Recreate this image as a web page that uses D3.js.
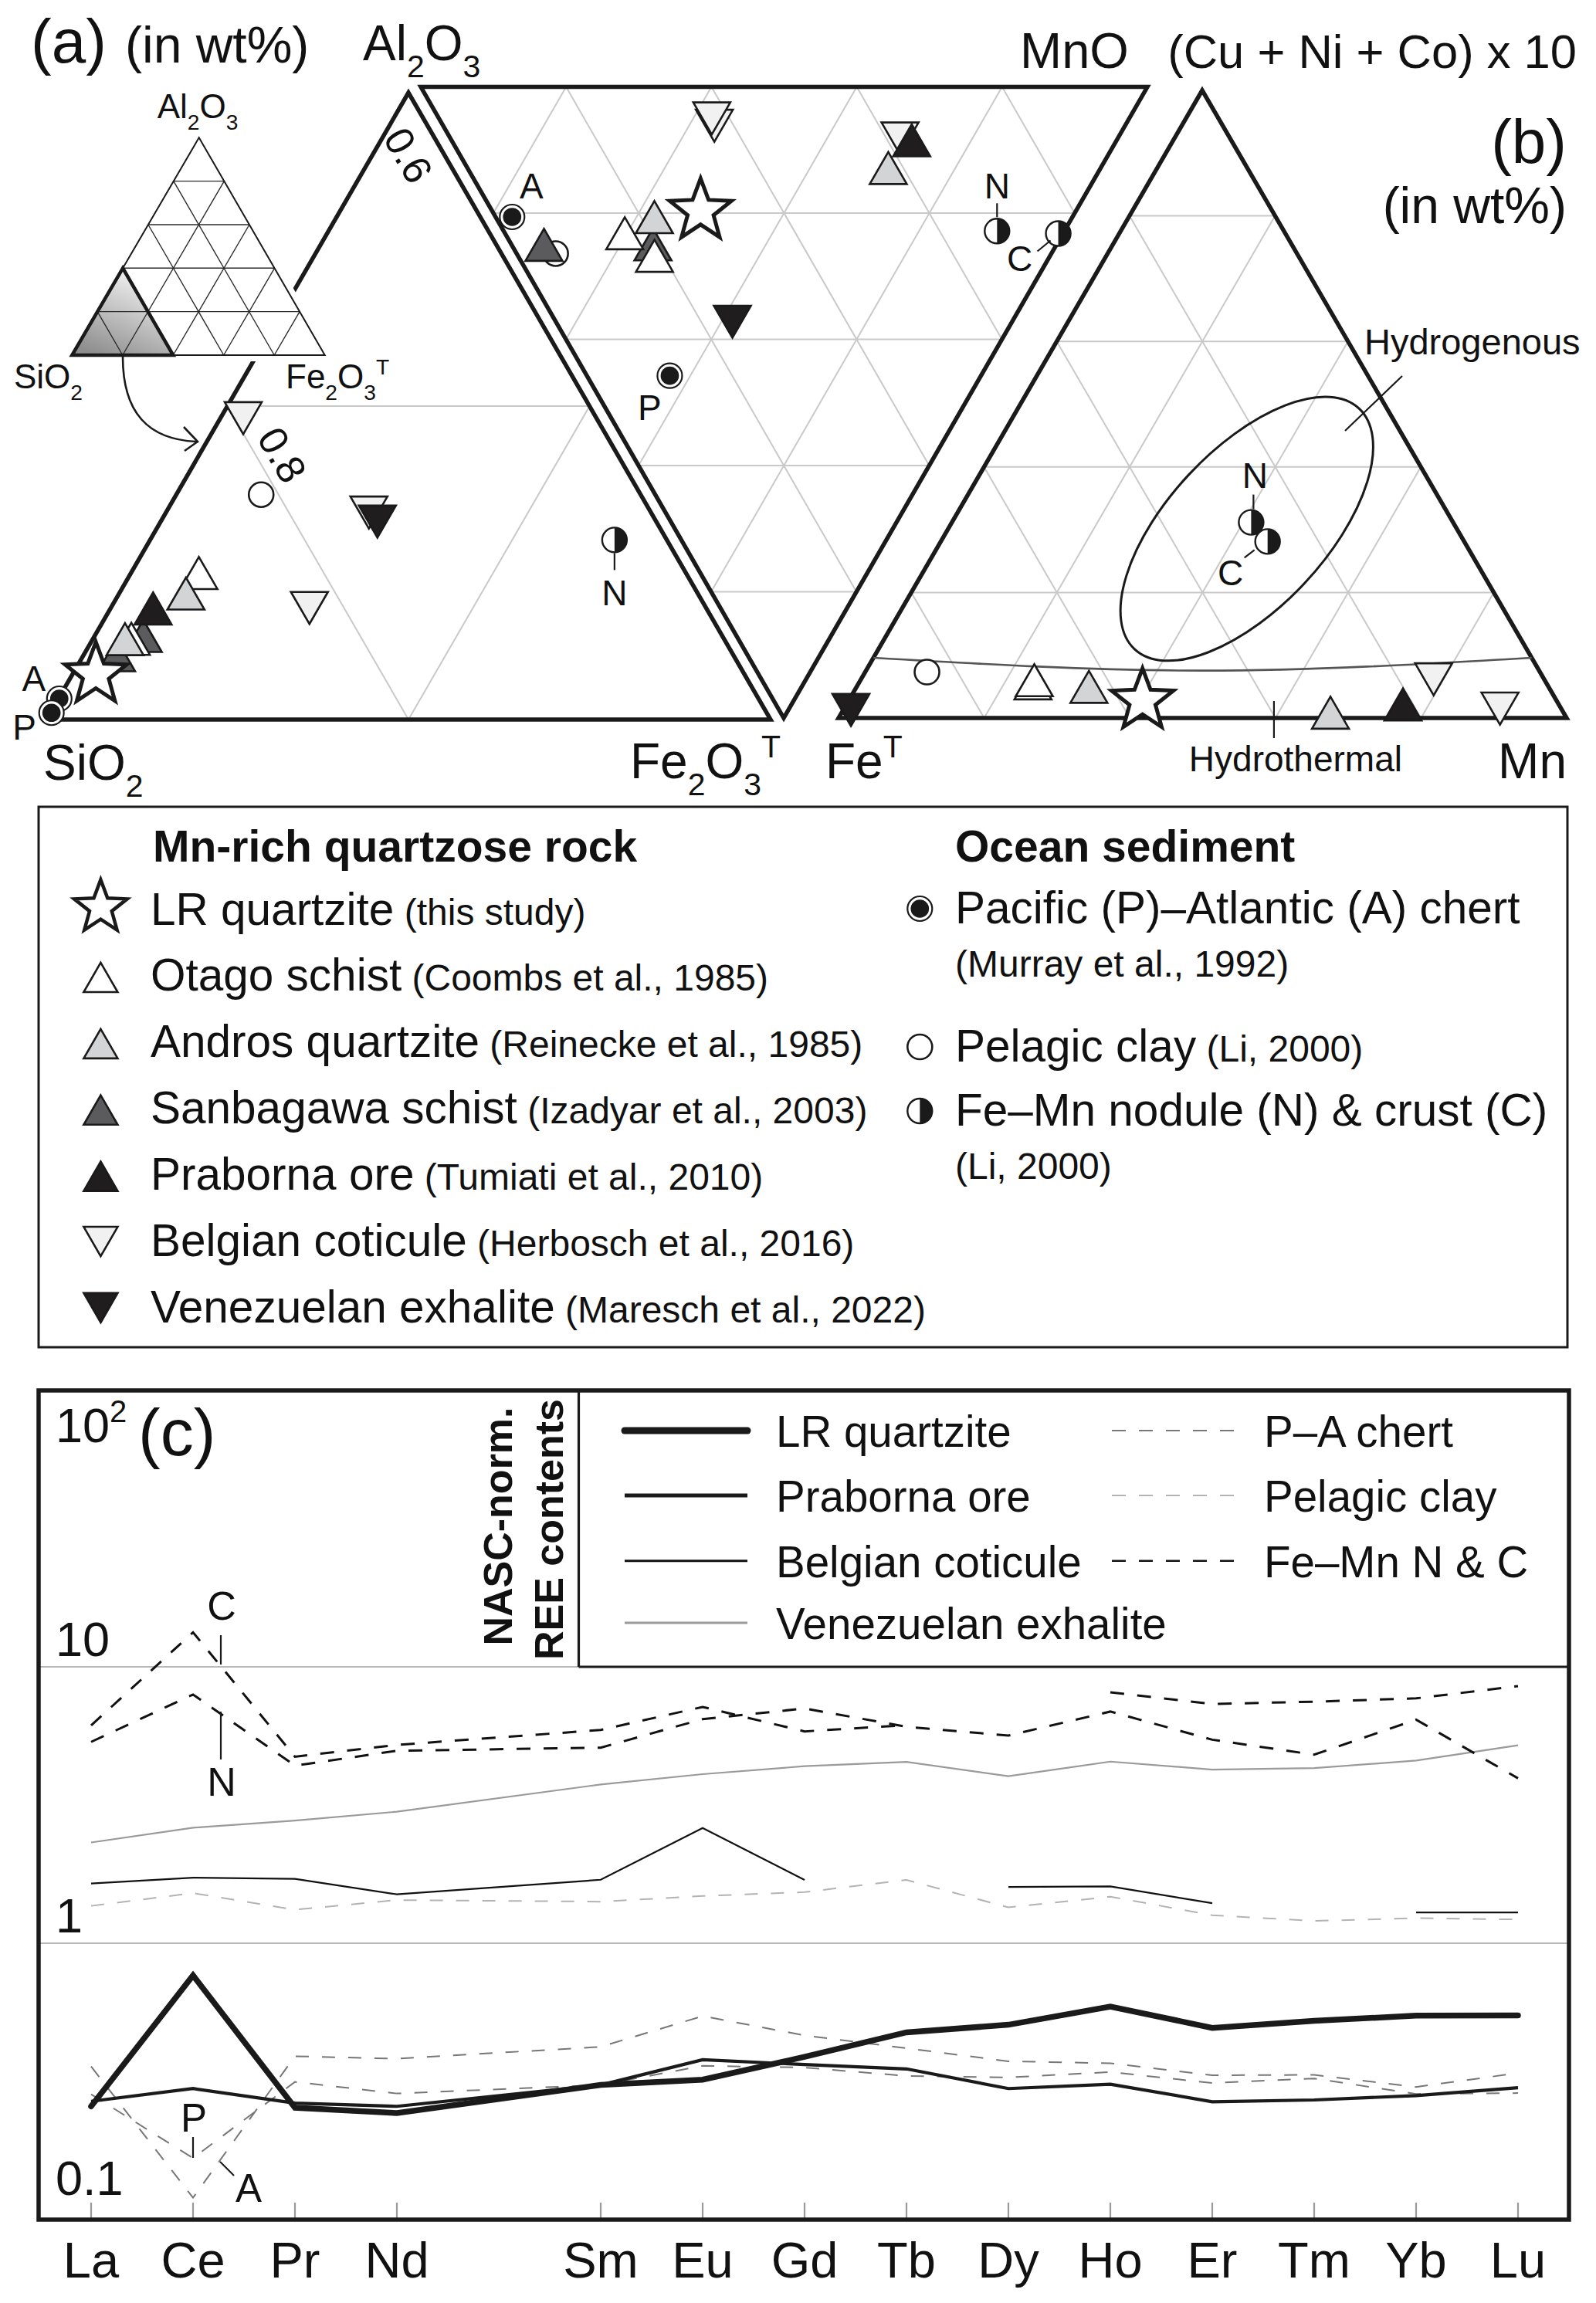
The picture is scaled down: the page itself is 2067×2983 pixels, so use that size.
<!DOCTYPE html>
<html>
<head>
<meta charset="utf-8">
<script src="https://cdn.jsdelivr.net/npm/d3@7"></script>
<style>
  body { margin: 0; background: #fff; }
  text { font-family: "Liberation Sans", Arial, Helvetica, sans-serif; fill: #111; }
</style>
</head>
<body>
<div id="wrapper"></div>
<script>
// ---------- data ----------
// (a) SiO2-Al2O3-Fe2O3 (wt fractions), drawn in the SiO2 > 0.6 corner
const panelAPoints = [
  {type: "sanbagawa", al: 0.0499, fe: 0.0286},
  {type: "sanbagawa", al: 0.0376, fe: 0.0200},
  {type: "otago", al: 0.0901, fe: 0.0392},
  {type: "otago", al: 0.0481, fe: 0.0229},
  {type: "andros", al: 0.0770, fe: 0.0386},
  {type: "andros", al: 0.0479, fe: 0.0195},
  {type: "praborna", al: 0.0675, fe: 0.0252},
  {type: "belgian", al: 0.1957, fe: 0.0109},
  {type: "belgian", al: 0.1355, fe: 0.1104},
  {type: "belgian", al: 0.0746, fe: 0.1080},
  {type: "venezuelan", al: 0.1297, fe: 0.1180},
  {type: "clay", al: 0.1435, fe: 0.0469},
  {type: "nodule", al: 0.1146, fe: 0.2565, tag: "N"},
  {type: "lr", al: 0.0287, fe: 0.0130},
  {type: "chert", al: 0.0133, fe: 0.0005, tag: "A"},
  {type: "chert", al: 0.0043, fe: 0.0007, tag: "P"}
];
// Al2O3-MnO-Fe2O3 (inverted triangle)
const panelMidPoints = [
  {type: "chert", mn: 0.0228, fe: 0.2060, tag: "A"},
  {type: "clay", mn: 0.0537, fe: 0.2641},
  {type: "sanbagawa", mn: 0.0403, fe: 0.2586},
  {type: "belgian", mn: 0.3775, fe: 0.0531},
  {type: "belgian", mn: 0.3798, fe: 0.0414},
  {type: "sanbagawa", mn: 0.1907, fe: 0.2579},
  {type: "otago", mn: 0.1837, fe: 0.2761},
  {type: "otago", mn: 0.1607, fe: 0.2403},
  {type: "andros", mn: 0.2142, fe: 0.2148},
  {type: "lr", mn: 0.2869, fe: 0.1965},
  {type: "venezuelan", mn: 0.2472, fe: 0.3636},
  {type: "chert", mn: 0.1141, fe: 0.4576, tag: "P"},
  {type: "andros", mn: 0.5750, fe: 0.1369},
  {type: "belgian", mn: 0.6230, fe: 0.0732},
  {type: "praborna", mn: 0.6291, fe: 0.0931},
  {type: "nodule", mn: 0.6790, fe: 0.2284, tag: "N"},
  {type: "nodule", mn: 0.7613, fe: 0.2323, tag: "C"}
];
// (b) FeT - (Cu+Ni+Co)x10 - Mn
const panelBPoints = [
  {type: "clay", cu: 0.0732, mn: 0.0849},
  {type: "otago", cu: 0.0467, mn: 0.2437},
  {type: "otago", cu: 0.0517, mn: 0.2430},
  {type: "andros", cu: 0.0412, mn: 0.3233},
  {type: "andros", cu: 0.0000, mn: 0.6756},
  {type: "praborna", cu: 0.0132, mn: 0.7686},
  {type: "belgian", cu: 0.0701, mn: 0.7823},
  {type: "belgian", cu: 0.0235, mn: 0.8967},
  {type: "venezuelan", cu: 0.0212, mn: 0.0064},
  {type: "lr", cu: 0.0276, mn: 0.4037},
  {type: "nodule", cu: 0.3117, mn: 0.4110, tag: "N"},
  {type: "nodule", cu: 0.2812, mn: 0.4488, tag: "C"}
];
const hydrothermalCurve = [
  {cu: 0.096, mn: 0.000}, {cu: 0.0755, mn: 0.4623}, {cu: 0.096, mn: 0.904}
];
const hydrogenousField = {cu: 0.3014, mn: 0.4102, major: 0.226, minor: 0.109, angle: -47};
const hydrothermalTick = {mn: 0.598};

// legend of (a)-(b)
const legendRock = [
  {key: "lr", name: "LR quartzite", ref: "(this study)"},
  {key: "otago", name: "Otago schist", ref: "(Coombs et al., 1985)"},
  {key: "andros", name: "Andros quartzite", ref: "(Reinecke et al., 1985)"},
  {key: "sanbagawa", name: "Sanbagawa schist", ref: "(Izadyar et al., 2003)"},
  {key: "praborna", name: "Praborna ore", ref: "(Tumiati et al., 2010)"},
  {key: "belgian", name: "Belgian coticule", ref: "(Herbosch et al., 2016)"},
  {key: "venezuelan", name: "Venezuelan exhalite", ref: "(Maresch et al., 2022)"}
];
const legendOcean = [
  {key: "chert", name: "Pacific (P)\u2013Atlantic (A) chert", ref: "(Murray et al., 1992)", own: true},
  {key: "clay", name: "Pelagic clay", ref: "(Li, 2000)", own: false},
  {key: "nodule", name: "Fe\u2013Mn nodule (N) & crust (C)", ref: "(Li, 2000)", own: true}
];

// (c) NASC-normalised REE
const ree = ["La", "Ce", "Pr", "Nd", "Sm", "Eu", "Gd", "Tb", "Dy", "Ho", "Er", "Tm", "Yb", "Lu"];
const atomicNo = [57, 58, 59, 60, 62, 63, 64, 65, 66, 67, 68, 69, 70, 71];
const lrQuartzite = [0.257, 0.765, 0.254, 0.243, 0.307, 0.321, 0.388, 0.476, 0.507, 0.590, 0.494, 0.524, 0.547, 0.548];
const prabornaOre = [0.268, 0.298, 0.264, 0.257, 0.307, 0.379, 0.364, 0.351, 0.298, 0.309, 0.267, 0.271, 0.281, 0.300];
const belgianCoticule = [1.644, 1.727, 1.709, 1.503, 1.697, 2.61, 1.695, null, 1.598, 1.605, 1.396, null, 1.293, 1.293];
const venezuelanExhalite = [2.315, 2.619, 2.779, 2.991, 3.753, 4.09, 4.37, 4.53, 4.02, 4.54, 4.25, 4.30, 4.58, 5.20];
const chertP = [0.284, 0.167, 0.315, 0.286, 0.307, 0.360, 0.355, 0.331, 0.327, 0.342, 0.312, 0.324, 0.285, 0.287];
const chertA = [0.358, 0.120, 0.390, 0.382, 0.422, 0.545, 0.464, 0.417, 0.374, 0.368, 0.333, 0.334, 0.302, 0.339];
const pelagicClay = [1.365, 1.518, 1.322, 1.433, 1.414, 1.482, 1.531, 1.695, 1.348, 1.474, 1.263, 1.204, 1.233, 1.219];
const feMnCrust = [6.14, 13.33, 4.73, 5.22, 5.91, 7.16, 5.84, 6.15, null, 8.09, 7.34, 7.48, 7.69, 8.52];
const feMnNodule = [5.35, 7.94, 4.39, 4.97, 5.10, 6.47, 7.07, 6.07, 5.64, 6.89, 5.45, 4.81, 6.44, 3.95];
const yTicks = [100, 10, 1, 0.1];

// ---------- setup ----------
const W = 2067, H = 2983;
const svg = d3.select("#wrapper").append("svg")
  .attr("width", W).attr("height", H)
  .style("display", "block");
svg.append("rect").attr("width", W).attr("height", H).attr("fill", "#fff");

const INK = "#1a1a1a";
const GRID = "#c9c9c9";
const fills = {
  otago: "#ffffff", andros: "#d3d4d6", sanbagawa: "#5b5b5d",
  praborna: "#1f1d1e", belgian: "#f1f1f1", venezuelan: "#1f1d1e"
};

function starPath(R) {
  const r = R * 0.42;
  const pts = d3.range(10).map(i => {
    const ang = -Math.PI / 2 + i * Math.PI / 5;
    const rad = i % 2 === 0 ? R : r;
    return [rad * Math.cos(ang), rad * Math.sin(ang)];
  });
  return "M" + pts.join("L") + "Z";
}
function triPath(s, down) {
  const h = s * Math.sqrt(3) / 2;
  const k = down ? -1 : 1;
  return `M0,${-k * 2 * h / 3}L${s / 2},${k * h / 3}L${-s / 2},${k * h / 3}Z`;
}

function marker(g, type, x, y, o) {
  const m = g.append("g").attr("transform", `translate(${x},${y})`);
  if (type === "lr") {
    m.append("path").attr("d", starPath(o.star))
      .attr("fill", "#fff").attr("stroke", INK).attr("stroke-width", o.starW).attr("stroke-linejoin", "miter");
  } else if (type === "belgian" || type === "venezuelan") {
    m.append("path").attr("d", triPath(o.tri, true))
      .attr("fill", fills[type]).attr("stroke", INK).attr("stroke-width", 2.6);
  } else if (fills[type]) {
    m.append("path").attr("d", triPath(o.tri, false))
      .attr("fill", fills[type]).attr("stroke", INK).attr("stroke-width", 2.6);
  } else if (type === "clay") {
    m.append("circle").attr("r", o.r).attr("fill", "#fff").attr("stroke", INK).attr("stroke-width", 2.6);
  } else if (type === "chert") {
    m.append("circle").attr("r", o.r).attr("fill", "#fff").attr("stroke", INK).attr("stroke-width", 2.2);
    m.append("circle").attr("r", o.r * 0.74).attr("fill", INK);
  } else if (type === "nodule") {
    m.append("circle").attr("r", o.r).attr("fill", "#fff").attr("stroke", INK).attr("stroke-width", 2.4);
    m.append("path").attr("d", `M0,${-o.r}A${o.r},${o.r} 0 0 1 0,${o.r}Z`).attr("fill", INK);
  }
  return m;
}

// text with sub/superscripts: parts = [[str, kind]]
function chem(g, x, y, parts, fs, anchor) {
  const t = g.append("text").attr("x", x).attr("y", y)
    .attr("font-size", fs).attr("text-anchor", anchor || "start");
  let shift = 0;
  parts.forEach(([s, k]) => {
    const target = k === "sub" ? fs * 0.34 : k === "sup" ? -fs * 0.42 : 0;
    t.append("tspan").attr("dy", target - shift)
      .attr("font-size", k ? fs * 0.64 : fs).text(s);
    shift = target;
  });
  return t;
}
const label = (g, x, y, s, fs, anchor) => g.append("text")
  .attr("x", x).attr("y", y).attr("font-size", fs)
  .attr("text-anchor", anchor || "middle").text(s);
const leader = (g, x1, y1, x2, y2) => g.append("line")
  .attr("x1", x1).attr("y1", y1).attr("x2", x2).attr("y2", y2)
  .attr("stroke", INK).attr("stroke-width", 2.2);

const ptOpts = {tri: 48, star: 42, starW: 5, r: 16};

// ---------- panel (a) ----------
const triA = {top: [529, 120], bl: [60, 932], br: [998, 932]};
const alScale = d3.scaleLinear().domain([0, 0.4]).range([0, 1]);
const feScale = d3.scaleLinear().domain([0, 0.4]).range([0, 1]);
function posA(al, fe) {
  const a = alScale(al), f = feScale(fe);
  return [
    triA.bl[0] + a * (triA.top[0] - triA.bl[0]) + f * (triA.br[0] - triA.bl[0]),
    triA.bl[1] + a * (triA.top[1] - triA.bl[1]) + f * (triA.br[1] - triA.bl[1])
  ];
}
const gA = svg.append("g");
const gridA = [
  [[0.2, 0], [0.2, 0.2]],
  [[0.2, 0], [0, 0.2]],
  [[0, 0.2], [0.2, 0.2]]
];
gridA.forEach(([p, q]) => {
  const a = posA(...p), b = posA(...q);
  gA.append("line").attr("x1", a[0]).attr("y1", a[1]).attr("x2", b[0]).attr("y2", b[1])
    .attr("stroke", GRID).attr("stroke-width", 2);
});
gA.append("path")
  .attr("d", "M" + [posA(0.4, 0), posA(0, 0), posA(0, 0.4)].join("L") + "Z")
  .attr("fill", "none").attr("stroke", INK).attr("stroke-width", 5.5).attr("stroke-linejoin", "miter");

// rotated edge values
[[0.6, posA(0.36, 0.02), [0, 0]], [0.8, posA(0.196, 0.008), [57, 55]]].forEach(([v, p, off]) => {
  gA.append("text").attr("transform", `translate(${p[0] + off[0]},${p[1] + off[1]}) rotate(60)`)
    .attr("font-size", 52).attr("text-anchor", "middle").attr("dy", "0.35em").text(v.toFixed(1));
});

// inverted triangle Al2O3-MnO-Fe2O3
const triM = {al: [545, 112.6], mn: [1486, 112.6], fe: [1015, 930]};
const mnScale = d3.scaleLinear().domain([0, 1]).range([0, 1]);
function posM(mn, fe) {
  const m = mnScale(mn), f = mnScale(fe), a = 1 - m - f;
  return [a * triM.al[0] + m * triM.mn[0] + f * triM.fe[0], a * triM.al[1] + m * triM.mn[1] + f * triM.fe[1]];
}
// (b) triangle
const triB = {cu: [1557, 117], fe: [1086, 930], mn: [2029, 930]};
function posB(cu, mn) {
  const c = mnScale(cu), m = mnScale(mn), f = 1 - c - m;
  return [c * triB.cu[0] + m * triB.mn[0] + f * triB.fe[0], c * triB.cu[1] + m * triB.mn[1] + f * triB.fe[1]];
}
const gM = svg.append("g"), gB = svg.append("g");
d3.range(1, 5).forEach(i => {
  const k = i / 5;
  const segsM = [[posM(0, k), posM(1 - k, k)], [posM(k, 0), posM(k, 1 - k)], [posM(0, 1 - k), posM(1 - k, 0)]];
  const segsB = [[posB(k, 0), posB(k, 1 - k)], [posB(0, k), posB(1 - k, k)], [posB(0, 1 - k), posB(1 - k, 0)]];
  segsM.forEach(([a, b]) => gM.append("line").attr("x1", a[0]).attr("y1", a[1]).attr("x2", b[0]).attr("y2", b[1])
    .attr("stroke", GRID).attr("stroke-width", 2));
  segsB.forEach(([a, b]) => gB.append("line").attr("x1", a[0]).attr("y1", a[1]).attr("x2", b[0]).attr("y2", b[1])
    .attr("stroke", GRID).attr("stroke-width", 2));
});
gM.append("path").attr("d", "M" + [posM(0, 0), posM(1, 0), posM(0, 1)].join("L") + "Z")
  .attr("fill", "none").attr("stroke", INK).attr("stroke-width", 5.5);
gB.append("path").attr("d", "M" + [posB(1, 0), posB(0, 0), posB(0, 1)].join("L") + "Z")
  .attr("fill", "none").attr("stroke", INK).attr("stroke-width", 5.5);

// hydrothermal curve and hydrogenous field
gB.append("path")
  .attr("d", d3.line().curve(d3.curveNatural)(hydrothermalCurve.map(d => posB(d.cu, d.mn))))
  .attr("fill", "none").attr("stroke", "#555").attr("stroke-width", 2.6);
const ec = posB(hydrogenousField.cu, hydrogenousField.mn);
const side = triB.mn[0] - triB.fe[0];
gB.append("ellipse").attr("cx", 0).attr("cy", 0)
  .attr("rx", hydrogenousField.major * side).attr("ry", hydrogenousField.minor * side)
  .attr("transform", `translate(${ec[0]},${ec[1]}) rotate(${hydrogenousField.angle})`)
  .attr("fill", "none").attr("stroke", INK).attr("stroke-width", 3);
const ht = posB(0, hydrothermalTick.mn);
leader(gB, ht[0], ht[1] - 22, ht[0], ht[1] + 26);
label(gB, ht[0] + 28, 999, "Hydrothermal", 46);
leader(gB, 1816, 487, 1742, 558);
label(gB, 1767, 459, "Hydrogenous", 47, "start");

// points
panelAPoints.forEach(d => { const p = posA(d.al, d.fe); marker(gA, d.type, p[0], p[1], ptOpts); });
panelMidPoints.forEach(d => { const p = posM(d.mn, d.fe); marker(gM, d.type, p[0], p[1], ptOpts); });
panelBPoints.forEach(d => { const p = posB(d.cu, d.mn); marker(gB, d.type, p[0], p[1], ptOpts); });

// point tags
const tagA = {A: [-33, -10], P: [-35, 35]};
panelAPoints.filter(d => d.tag).forEach(d => {
  const p = posA(d.al, d.fe);
  if (d.type === "chert") label(gA, p[0] + tagA[d.tag][0], p[1] + tagA[d.tag][1], d.tag, 46);
  else { leader(gA, p[0], p[1] + 17, p[0], p[1] + 39); label(gA, p[0], p[1] + 85, d.tag, 46); }
});
panelMidPoints.filter(d => d.tag).forEach(d => {
  const p = posM(d.mn, d.fe);
  if (d.tag === "A") label(gM, p[0] + 25, p[1] - 24, "A", 46);
  if (d.tag === "P") label(gM, p[0] - 26, p[1] + 57, "P", 46);
  if (d.tag === "N") { leader(gM, p[0], p[1] - 36, p[0], p[1] - 18); label(gM, p[0], p[1] - 42, "N", 46); }
  if (d.tag === "C") { leader(gM, p[0] - 27, p[1] + 23, p[0] - 10, p[1] + 9); label(gM, p[0] - 50, p[1] + 49, "C", 46); }
});
panelBPoints.filter(d => d.tag).forEach(d => {
  const p = posB(d.cu, d.mn);
  if (d.tag === "N") { leader(gB, p[0] + 3, p[1] - 36, p[0] + 3, p[1] - 17); label(gB, p[0] + 5, p[1] - 45, "N", 46); }
  if (d.tag === "C") { leader(gB, p[0] - 30, p[1] + 21, p[0] - 17, p[1] + 11); label(gB, p[0] - 48, p[1] + 57, "C", 46); }
});

// inset ternary
const inset = {top: [257.7, 178.3], bl: [93.3, 460], br: [420.7, 460]};
const gI = svg.append("g");
const ip = (a, f) => [inset.bl[0] + a * (inset.top[0] - inset.bl[0]) + f * (inset.br[0] - inset.bl[0]),
                      inset.bl[1] + a * (inset.top[1] - inset.bl[1]) + f * (inset.br[1] - inset.bl[1])];
gI.append("path").attr("d", "M" + [ip(1, 0), ip(0, 0), ip(0, 1)].join("L") + "Z")
  .attr("fill", "#fff").attr("stroke", "#fff").attr("stroke-width", 16);
const grad = svg.append("defs").append("linearGradient").attr("id", "insetFill")
  .attr("x1", 0.75).attr("y1", 0).attr("x2", 0.25).attr("y2", 1);
grad.append("stop").attr("offset", "0%").attr("stop-color", "#fbfbfb");
grad.append("stop").attr("offset", "100%").attr("stop-color", "#8e8e8e");
gI.append("path").attr("d", "M" + [ip(0.4, 0), ip(0, 0), ip(0, 0.4)].join("L") + "Z").attr("fill", "url(#insetFill)");
d3.range(1, 5).forEach(i => {
  const k = i / 5;
  [[ip(k, 0), ip(k, 1 - k)], [ip(0, k), ip(1 - k, k)], [ip(0, 1 - k), ip(1 - k, 0)]].forEach(([a, b]) =>
    gI.append("line").attr("x1", a[0]).attr("y1", a[1]).attr("x2", b[0]).attr("y2", b[1])
      .attr("stroke", "#2a2a2a").attr("stroke-width", 1.4));
});
gI.append("path").attr("d", "M" + [ip(1, 0), ip(0, 0), ip(0, 1)].join("L") + "Z")
  .attr("fill", "none").attr("stroke", INK).attr("stroke-width", 2);
gI.append("path").attr("d", "M" + [ip(0.4, 0), ip(0, 0), ip(0, 0.4)].join("L") + "Z")
  .attr("fill", "none").attr("stroke", INK).attr("stroke-width", 4.5);
chem(gI, 256, 153, [["Al"], ["2", "sub"], ["O"], ["3", "sub"]], 44, "middle");
chem(gI, 18, 503, [["SiO"], ["2", "sub"]], 44);
chem(gI, 370, 503, [["Fe"], ["2", "sub"], ["O"], ["3", "sub"], ["T", "sup"]], 44);
gI.append("path").attr("d", "M159,462 C159,535 192,569 254,572")
  .attr("fill", "none").attr("stroke", INK).attr("stroke-width", 2.6);
gI.append("path").attr("d", "M238,553 L256,572 L239,584")
  .attr("fill", "none").attr("stroke", INK).attr("stroke-width", 2.6);

// panel titles
const gT = svg.append("g");
label(gT, 40, 81, "(a)", 80, "start");
label(gT, 162, 81, "(in wt%)", 66, "start");
chem(gT, 470, 78, [["Al"], ["2", "sub"], ["O"], ["3", "sub"]], 64);
chem(gT, 56, 1010, [["SiO"], ["2", "sub"]], 64);
chem(gT, 816, 1008, [["Fe"], ["2", "sub"], ["O"], ["3", "sub"], ["T", "sup"]], 64);
chem(gT, 1069, 1008, [["Fe"], ["T", "sup"]], 64);
label(gT, 2029, 1008, "Mn", 64, "end");
label(gT, 1321, 88, "MnO", 65, "start");
label(gT, 2042, 88, "(Cu + Ni + Co) x 10", 61.5, "end");
label(gT, 2029, 211, "(b)", 80, "end");
label(gT, 2029, 289, "(in wt%)", 66, "end");

// ---------- legend (a)-(b) ----------
const gL = svg.append("g");
gL.append("rect").attr("x", 50).attr("y", 1045).attr("width", 1980).attr("height", 700)
  .attr("fill", "none").attr("stroke", INK).attr("stroke-width", 3);
gL.append("text").attr("x", 198).attr("y", 1116).attr("font-size", 57).attr("font-weight", "bold")
  .text("Mn-rich quartzose rock");
gL.append("text").attr("x", 1237).attr("y", 1116).attr("font-size", 57).attr("font-weight", "bold")
  .text("Ocean sediment");
const rockY = d3.scaleLinear().domain([0, legendRock.length - 1]).range([1197.5, 1712.6]);
const legOpts = {tri: 44, star: 36, starW: 4.5, r: 16};
legendRock.forEach((d, i) => {
  const y = rockY(i);
  const dy = d.key === "lr" ? -22 : (d.key === "belgian" || d.key === "venezuelan") ? -25 : -11;
  marker(gL, d.key, 130.4, y + dy, legOpts);
  const t = gL.append("text").attr("x", 195).attr("y", y).attr("font-size", 58.5);
  t.append("tspan").text(d.name);
  t.append("tspan").attr("font-size", 48).text(" " + d.ref);
});
const oceanY = [1196, 1375, 1458];
legendOcean.forEach((d, i) => {
  const y = oceanY[i];
  marker(gL, d.key, 1191.3, y - 19, legOpts);
  if (d.own) {
    gL.append("text").attr("x", 1237).attr("y", y).attr("font-size", 58.5).text(d.name);
    gL.append("text").attr("x", 1237).attr("y", y + 69).attr("font-size", 48).text(d.ref);
  } else {
    const t = gL.append("text").attr("x", 1237).attr("y", y).attr("font-size", 58.5);
    t.append("tspan").text(d.name);
    t.append("tspan").attr("font-size", 48).text(" " + d.ref);
  }
});

// ---------- panel (c) ----------
const dimC = {left: 50, right: 2032, top: 1801, bottom: 2875};
const x = d3.scaleLinear().domain([57, 71]).range([118, 1966]);
const y = d3.scaleLog().domain([0.1, 100]).range([dimC.bottom, dimC.top]);
const gC = svg.append("g");

[10, 1].forEach(v => gC.append("line")
  .attr("x1", dimC.left).attr("x2", dimC.right).attr("y1", y(v)).attr("y2", y(v))
  .attr("stroke", "#b8b8b8").attr("stroke-width", 2));

// ticks and element labels
atomicNo.forEach((z, i) => {
  gC.append("line").attr("x1", x(z)).attr("x2", x(z)).attr("y1", dimC.bottom).attr("y2", dimC.bottom - 22)
    .attr("stroke", "#999").attr("stroke-width", 2.2);
  label(gC, x(z), 2950, ree[i], 65);
});

const series = [
  {values: pelagicClay, color: "#b3b3b3", width: 2, dash: "17,17"},
  {values: chertP, color: "#777", width: 2, dash: "17,17"},
  {values: chertA, color: "#777", width: 2, dash: "17,17"},
  {values: venezuelanExhalite, color: "#9a9a9a", width: 2.2, dash: null},
  {values: belgianCoticule, color: "#111", width: 2.2, dash: null},
  {values: feMnCrust, color: "#111", width: 3, dash: "18,17"},
  {values: feMnNodule, color: "#111", width: 3, dash: "18,17"},
  {values: prabornaOre, color: "#1a1a1a", width: 4.2, dash: null},
  {values: lrQuartzite, color: "#1a1a1a", width: 7.5, dash: null}
];
const lineGen = d3.line()
  .defined(d => d.v !== null)
  .x(d => x(d.z))
  .y(d => y(d.v));
series.forEach(s => {
  gC.append("path")
    .datum(s.values.map((v, i) => ({z: atomicNo[i], v})))
    .attr("d", lineGen)
    .attr("fill", "none").attr("stroke", s.color).attr("stroke-width", s.width)
    .attr("stroke-dasharray", s.dash).attr("stroke-linecap", s.width > 6 ? "round" : "butt")
    .attr("stroke-linejoin", "miter");
});

// C / N / P / A tags
leader(gC, x(58) + 36, 2118, x(58) + 36, 2156);
label(gC, x(58) + 37, 2098, "C", 52);
leader(gC, x(58) + 36, 2217, x(58) + 36, 2279);
label(gC, x(58) + 37, 2326, "N", 52);
leader(gC, x(58), 2768, x(58), 2795);
label(gC, x(58) + 1, 2761, "P", 51);
leader(gC, x(58) + 35, 2800, x(58) + 53, 2818);
label(gC, x(58) + 72, 2852, "A", 51);

// y tick labels
yTicks.forEach(v => {
  const yy = v === 100 ? y(v) + 67 : v === 0.1 ? y(v) - 32 : y(v) - 14;
  const t = gC.append("text").attr("x", 72).attr("y", yy).attr("font-size", 63);
  if (v === 100) {
    t.append("tspan").text("10");
    t.append("tspan").attr("font-size", 40).attr("dy", -26).text("2");
  } else t.text(String(v));
});
label(gC, 179, 1885, "(c)", 86, "start");

// legend (c)
const legC = {left: 749.5, bottom: y(10)};
gC.append("line").attr("x1", legC.left).attr("x2", legC.left).attr("y1", dimC.top).attr("y2", legC.bottom)
  .attr("stroke", INK).attr("stroke-width", 3.2);
gC.append("line").attr("x1", legC.left).attr("x2", dimC.right).attr("y1", legC.bottom).attr("y2", legC.bottom)
  .attr("stroke", INK).attr("stroke-width", 3.2);
gC.append("text").attr("transform", "translate(663,1977) rotate(-90)")
  .attr("font-size", 52).attr("font-weight", "bold").attr("text-anchor", "middle").text("NASC-norm.");
gC.append("text").attr("transform", "translate(729,1981) rotate(-90)")
  .attr("font-size", 52).attr("font-weight", "bold").attr("text-anchor", "middle").text("REE contents");
const legendLines = [
  {name: "LR quartzite", color: "#1a1a1a", width: 9, dash: null, col: 0},
  {name: "Praborna ore", color: "#1a1a1a", width: 5, dash: null, col: 0},
  {name: "Belgian coticule", color: "#111", width: 3, dash: null, col: 0},
  {name: "Venezuelan exhalite", color: "#9a9a9a", width: 3, dash: null, col: 0},
  {name: "P\u2013A chert", color: "#777", width: 2, dash: "18,17", col: 1},
  {name: "Pelagic clay", color: "#b3b3b3", width: 2, dash: "18,17", col: 1},
  {name: "Fe\u2013Mn N & C", color: "#111", width: 2.6, dash: "18,17", col: 1}
];
const legRowY = [1853, 1937, 2021.7, 2102];
const cols = [{x1: 809, x2: 968, tx: 1005}, {x1: 1440, x2: 1604, tx: 1637}];
let rowIdx = [0, 0];
legendLines.forEach(d => {
  const c = cols[d.col], ly = legRowY[rowIdx[d.col]++];
  gC.append("line").attr("x1", c.x1).attr("x2", c.x2).attr("y1", ly).attr("y2", ly)
    .attr("stroke", d.color).attr("stroke-width", d.width).attr("stroke-dasharray", d.dash)
    .attr("stroke-linecap", d.width > 6 ? "round" : "butt");
  gC.append("text").attr("x", c.tx).attr("y", ly + 21).attr("font-size", 56.5).text(d.name);
});

// frame on top
gC.append("rect").attr("x", dimC.left).attr("y", dimC.top)
  .attr("width", dimC.right - dimC.left).attr("height", dimC.bottom - dimC.top)
  .attr("fill", "none").attr("stroke", INK).attr("stroke-width", 5.5);
</script>
</body>
</html>
